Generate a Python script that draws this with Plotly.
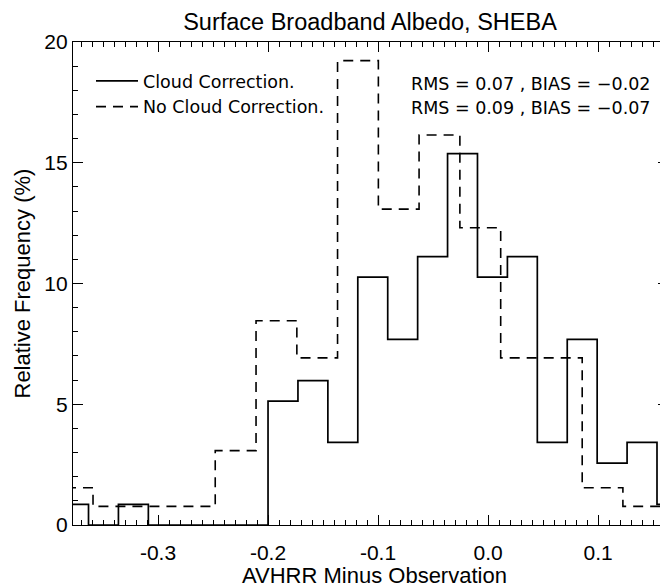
import plotly.graph_objects as go

# ---- data ----
# Cloud-corrected histogram (solid): bin edges and relative frequency (%)
cloud_edges = [-0.3904, -0.3632, -0.3360, -0.3088, -0.2816, -0.2544, -0.2272,
               -0.2000, -0.1728, -0.1456, -0.1184, -0.0912, -0.0640, -0.0368,
               -0.0096, 0.0176, 0.0448, 0.0720, 0.0992, 0.1264, 0.1536, 0.1808]
cloud_freq = [0.85, 0.0, 0.85, 0.0, 0.0, 0.0, 0.0,
              5.13, 5.98, 3.42, 10.26, 7.69, 11.11, 15.38,
              10.26, 11.11, 3.42, 7.69, 2.56, 3.42, 0.85]

# No-cloud-correction histogram (dashed)
nocloud_edges = [-0.3962, -0.3591, -0.3221, -0.2850, -0.2480, -0.2109, -0.1738,
                 -0.1368, -0.0997, -0.0627, -0.0256, 0.0115, 0.0485, 0.0856,
                 0.1226, 0.1597, 0.1968]
nocloud_freq = [1.54, 0.77, 0.77, 0.77, 3.08, 8.46, 6.92, 19.23,
                13.08, 16.15, 12.31, 6.92, 6.92, 1.54, 0.77, 0.77]

series_names = ["Cloud Correction.", "No Cloud Correction."]
stats_text = ["RMS = 0.07 , BIAS = \u22120.02", "RMS = 0.09 , BIAS = \u22120.07"]

x_tick_vals = [-0.3, -0.2, -0.1, 0.0, 0.1]
x_tick_text = ["-0.3", "-0.2", "-0.1", "0.0", "0.1"]
y_tick_vals = [0, 5, 10, 15, 20]
y_tick_text = ["0", "5", "10", "15", "20"]

x_range = [-0.3773, 0.1636]
y_range = [0, 20]

# ---- layout geometry (page pixels; the page body adds an 8 px offset) ----
OFF = 8
W, H = 668 - OFF, 587 - OFF
PL, PR, PT, PB = 73, 668, 42, 525


def px(x):
    return (x - PL) / (PR - PL)


def py(y):
    return (PB - y) / (PB - PT)


def step_outline(edges, freq):
    xs = [edges[0]] + list(edges[:-1]) + [edges[-1]]
    ys = [0.0] + list(freq) + [0.0]
    return xs, ys


fig = go.Figure()
xs, ys = step_outline(cloud_edges, cloud_freq)
fig.add_trace(go.Scatter(x=xs, y=ys, mode="lines", line_shape="hv",
                         name=series_names[0],
                         line=dict(color="black", width=1.7)))
xs, ys = step_outline(nocloud_edges, nocloud_freq)
fig.add_trace(go.Scatter(x=xs, y=ys, mode="lines", line_shape="hv",
                         name=series_names[1],
                         line=dict(color="black", width=1.6, dash="10px,7px")))

sans = "Liberation Sans, Arial, sans-serif"
tick_font = dict(family=sans, size=21, color="black")
thin_font = dict(family="DejaVu Sans, sans-serif", size=17.5, color="black")

fig.update_layout(
    width=W, height=H,
    margin=dict(l=PL - OFF, r=W - (PR - OFF), t=PT - OFF, b=H - (PB - OFF)),
    paper_bgcolor="white", plot_bgcolor="white",
    showlegend=True,
    legend=dict(x=px(91), y=py(63), xanchor="left", yanchor="top",
                bgcolor="rgba(0,0,0,0)", borderwidth=0, font=thin_font,
                itemwidth=42, tracegroupgap=0),
    title=dict(text="Surface Broadband Albedo, SHEBA", x=px(370), xref="paper",
               xanchor="center", y=1 - (22 - OFF) / H, yanchor="middle",
               font=dict(family=sans, size=23.5, color="black")),
)

fig.update_xaxes(
    range=x_range, tickmode="array", tickvals=x_tick_vals, ticktext=x_tick_text,
    ticks="inside", ticklen=10, tickwidth=1.2, tickcolor="black",
    showline=True, linecolor="black", linewidth=1.3, mirror="allticks",
    showgrid=False, zeroline=False, tickfont=tick_font, ticklabelstandoff=9,
    minor=dict(tickmode="linear", tick0=0, dtick=0.01, ticks="inside", ticklen=5,
               tickwidth=1, tickcolor="black", showgrid=False),
)
fig.update_yaxes(
    range=y_range, tickmode="array", tickvals=y_tick_vals, ticktext=y_tick_text,
    ticks="inside", ticklen=10, tickwidth=1.2, tickcolor="black",
    showline=True, linecolor="black", linewidth=1.3, mirror="allticks",
    showgrid=False, zeroline=False, tickfont=tick_font,
    minor=dict(tickmode="linear", tick0=0, dtick=1, ticks="inside", ticklen=5,
               tickwidth=1, tickcolor="black", showgrid=False),
)

fig.add_annotation(text="AVHRR Minus Observation", xref="paper", yref="paper",
                   x=px(374), y=py(575), xanchor="center", yanchor="middle",
                   showarrow=False, font=dict(family=sans, size=22, color="black"))
fig.add_annotation(text="Relative Frequency (%)", xref="paper", yref="paper",
                   x=px(22), y=0.5, xanchor="center", yanchor="middle",
                   textangle=-90, showarrow=False,
                   font=dict(family=sans, size=22, color="black"))
for i, t in enumerate(stats_text):
    fig.add_annotation(text=t, xref="paper", yref="paper",
                       x=px(409), y=py(84 + 24 * i),
                       xanchor="left", yanchor="middle", showarrow=False, font=thin_font)

fig.write_html("out.html")
